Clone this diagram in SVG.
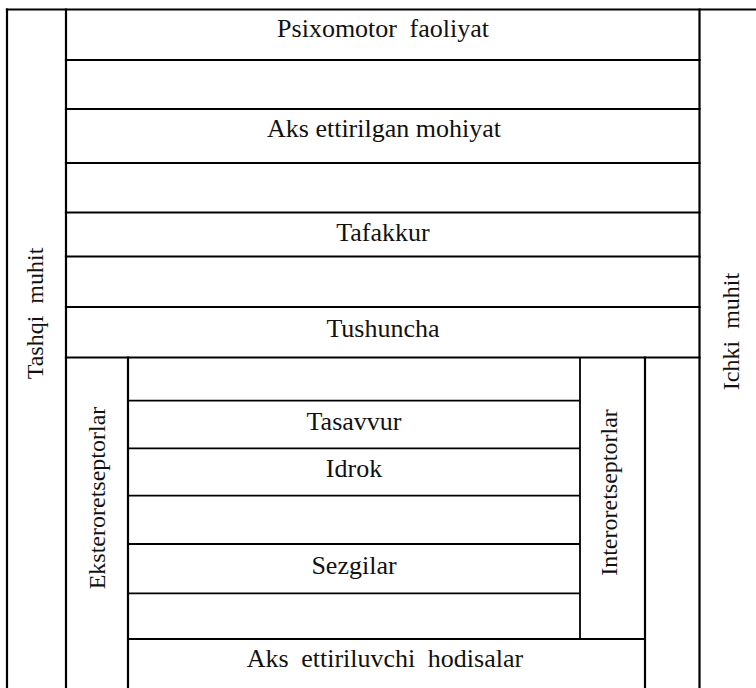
<svg xmlns="http://www.w3.org/2000/svg" width="756" height="688" viewBox="0 0 756 688">
  <style>
    .ln { stroke: #000; stroke-width: 2.2; fill: none; stroke-linecap: square; }
    .thin { stroke: #000; stroke-width: 1.8; fill: none; }
    text { fill: #111; text-anchor: middle; }
  </style>
  <rect width="756" height="688" fill="#fff"/>

  <!-- frame and dividing lines -->
  <g id="connectors">
    <!-- top edge -->
    <line class="ln" x1="7" y1="9.5" x2="756" y2="9.5"/>
    <!-- outer verticals -->
    <line class="ln" x1="7" y1="9.5" x2="7" y2="688"/>
    <line class="ln" x1="66" y1="9.5" x2="66" y2="688"/>
    <line class="ln" x1="699.5" y1="9.5" x2="699.5" y2="688"/>
    <!-- upper rows -->
    <line class="ln" x1="66" y1="60" x2="699.5" y2="60"/>
    <line class="ln" x1="66" y1="109" x2="699.5" y2="109"/>
    <line class="ln" x1="66" y1="163" x2="699.5" y2="163"/>
    <line class="ln" x1="66" y1="212.5" x2="699.5" y2="212.5"/>
    <line class="ln" x1="66" y1="256.5" x2="699.5" y2="256.5"/>
    <line class="ln" x1="66" y1="307" x2="699.5" y2="307"/>
    <line class="ln" x1="66" y1="357.5" x2="699.5" y2="357.5"/>
    <!-- lower inner block -->
    <line class="ln" x1="128" y1="357.5" x2="128" y2="688"/>
    <line class="ln" x1="645" y1="357.5" x2="645" y2="688"/>
    <line class="thin" x1="580" y1="357.5" x2="580" y2="639"/>
    <line class="thin" x1="128" y1="400.7" x2="580" y2="400.7"/>
    <line class="thin" x1="128" y1="448.3" x2="580" y2="448.3"/>
    <line class="thin" x1="128" y1="495.7" x2="580" y2="495.7"/>
    <line class="thin" x1="128" y1="544" x2="580" y2="544"/>
    <line class="thin" x1="128" y1="593.3" x2="580" y2="593.3"/>
    <line class="thin" x1="128" y1="639" x2="645" y2="639"/>
  </g>

  <g id="psixomotor"><text font-family="Liberation Serif" font-size="26" x="383" y="37">Psixomotor<tspan dx="6"> faoliyat</tspan></text></g>
  <g id="aks-mohiyat"><text font-family="Liberation Serif" font-size="26" x="384" y="137">Aks ettirilgan mohiyat</text></g>
  <g id="tafakkur"><text font-family="Liberation Serif" font-size="26" x="383" y="241">Tafakkur</text></g>
  <g id="tushuncha"><text font-family="Liberation Serif" font-size="26" x="383" y="337">Tushuncha</text></g>
  <g id="tasavvur"><text font-family="Liberation Serif" font-size="26" x="354" y="430">Tasavvur</text></g>
  <g id="idrok"><text font-family="Liberation Serif" font-size="26" x="354" y="477">Idrok</text></g>
  <g id="sezgilar"><text font-family="Liberation Serif" font-size="26" x="354" y="574">Sezgilar</text></g>
  <g id="aks-hodisalar"><text font-family="Liberation Serif" font-size="26" x="385" y="667">Aks<tspan dx="6"> ettiriluvchi</tspan><tspan dx="6"> hodisalar</tspan></text></g>

  <g id="tashqi-muhit"><text font-family="Liberation Serif" font-size="24" transform="translate(43 313.5) rotate(-90)">Tashqi<tspan dx="6"> muhit</tspan></text></g>
  <g id="ichki-muhit"><text font-family="Liberation Serif" font-size="24" transform="translate(739 331.5) rotate(-90)">Ichki<tspan dx="6"> muhit</tspan></text></g>
  <g id="eksteroretseptorlar"><text font-family="Liberation Serif" font-size="24" transform="translate(105 498) rotate(-90)">Eksteroretseptorlar</text></g>
  <g id="interoretseptorlar"><text font-family="Liberation Serif" font-size="24" transform="translate(617 492.5) rotate(-90)">Interoretseptorlar</text></g>
</svg>
